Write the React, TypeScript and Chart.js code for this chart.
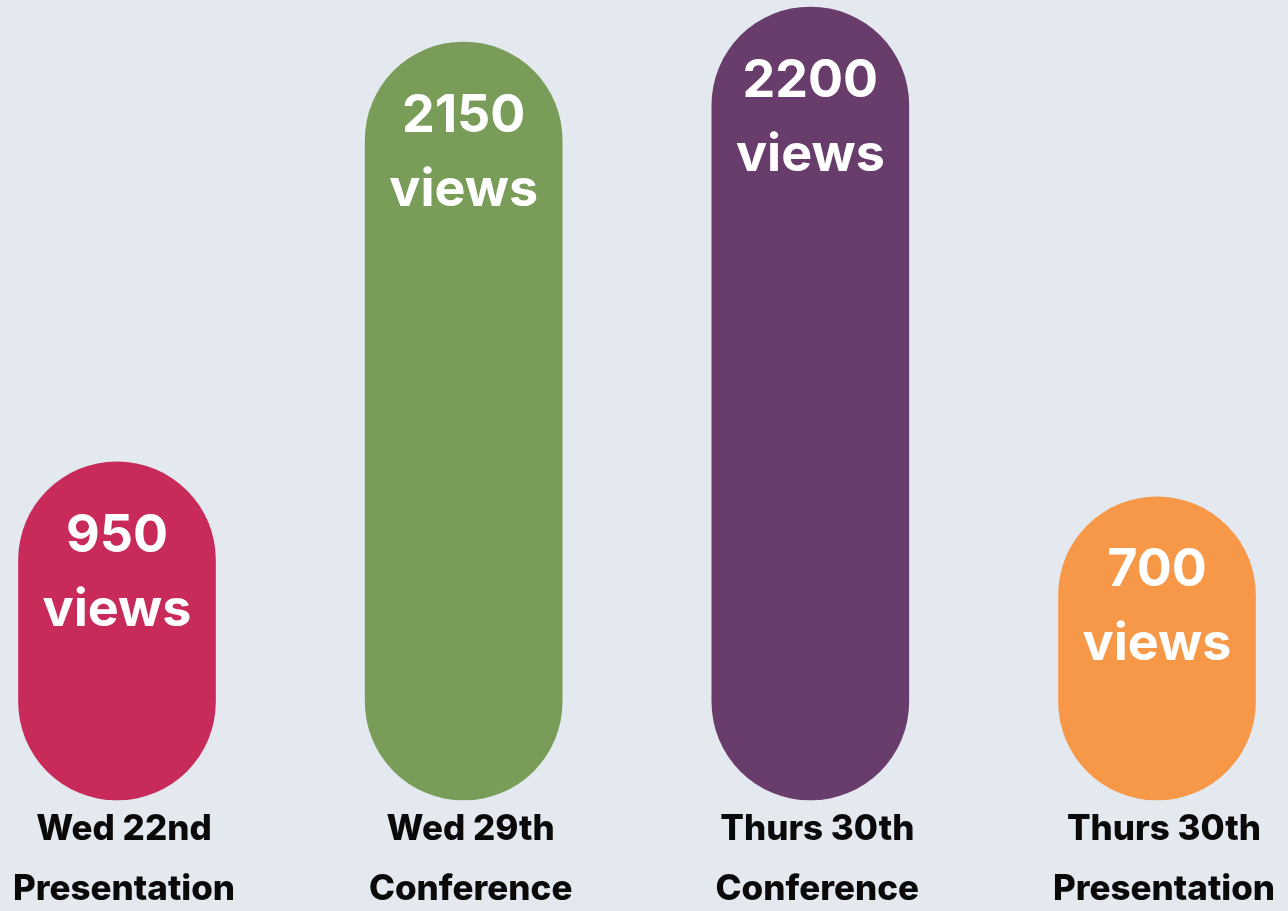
import React, { useEffect, useRef } from "react";
import { Chart, registerables } from "chart.js";

Chart.register(...registerables);

const categoryLine1 = ["Wed 22nd", "Wed 29th", "Thurs 30th", "Thurs 30th"];
const categoryLine2 = ["Presentation", "Conference", "Conference", "Presentation"];
const viewCounts = ["950", "2150", "2200", "700"];
const viewUnit = "views";
// bar lengths as drawn in the picture (in views-scale)
const barHeights = [938, 2103, 2200, 841];
const barColors = ["#C82A5A", "#7A9C59", "#683C6B", "#F79848"];

const BG = "#E4E9F0";
const FONT = "Inter, 'Open Sans', sans-serif";

export default function App() {
  const ref = useRef<HTMLCanvasElement | null>(null);

  useEffect(() => {
    document.body.style.margin = "0";
    document.body.style.background = BG;
    const canvas = ref.current!;
    const labelPlugin = {
      id: "customLabels",
      afterDatasetsDraw(chart: any) {
        const ctx = chart.ctx;
        const meta = chart.getDatasetMeta(0);
        ctx.save();
        ctx.textAlign = "center";
        meta.data.forEach((bar: any, i: number) => {
          const x = bar.x;
          const top = bar.y;
          ctx.fillStyle = "#FFFFFF";
          ctx.textBaseline = "middle";
          ctx.font = `700 52px ${FONT}`;
          ctx.fillText(viewCounts[i], x, top + 74);
          ctx.fillText(viewUnit, x, top + 148);
          ctx.fillStyle = "#0A0A0A";
          ctx.textBaseline = "alphabetic";
          ctx.font = `800 35px ${FONT}`;
          const base = chart.chartArea.bottom;
          ctx.fillText(categoryLine1[i], x + 7, base + 40);
          ctx.fillText(categoryLine2[i], x + 7, base + 100);
        });
        ctx.restore();
      },
    };
    const chart = new Chart(canvas, {
      type: "bar",
      data: {
        labels: categoryLine1.map((l, i) => l + " " + categoryLine2[i]),
        datasets: [
          {
            data: barHeights,
            backgroundColor: barColors,
            borderRadius: 99,
            borderSkipped: false,
            barThickness: 197,
            clip: false as any,
          },
        ],
      },
      options: {
        animation: false,
        responsive: false,
        devicePixelRatio: 1,
        layout: { padding: { left: 117, right: 131, top: 7, bottom: 111 } },
        plugins: { legend: { display: false }, tooltip: { enabled: false } },
        scales: {
          x: { display: false, offset: false, grid: { display: false } },
          y: { display: false, min: 0, max: 2200 },
        },
      },
      plugins: [labelPlugin],
    });
    return () => chart.destroy();
  }, []);

  return (
    <div style={{ width: 1288, height: 911, background: BG }}>
      <canvas ref={ref} width={1288} height={911} style={{ display: "block" }} />
    </div>
  );
}
